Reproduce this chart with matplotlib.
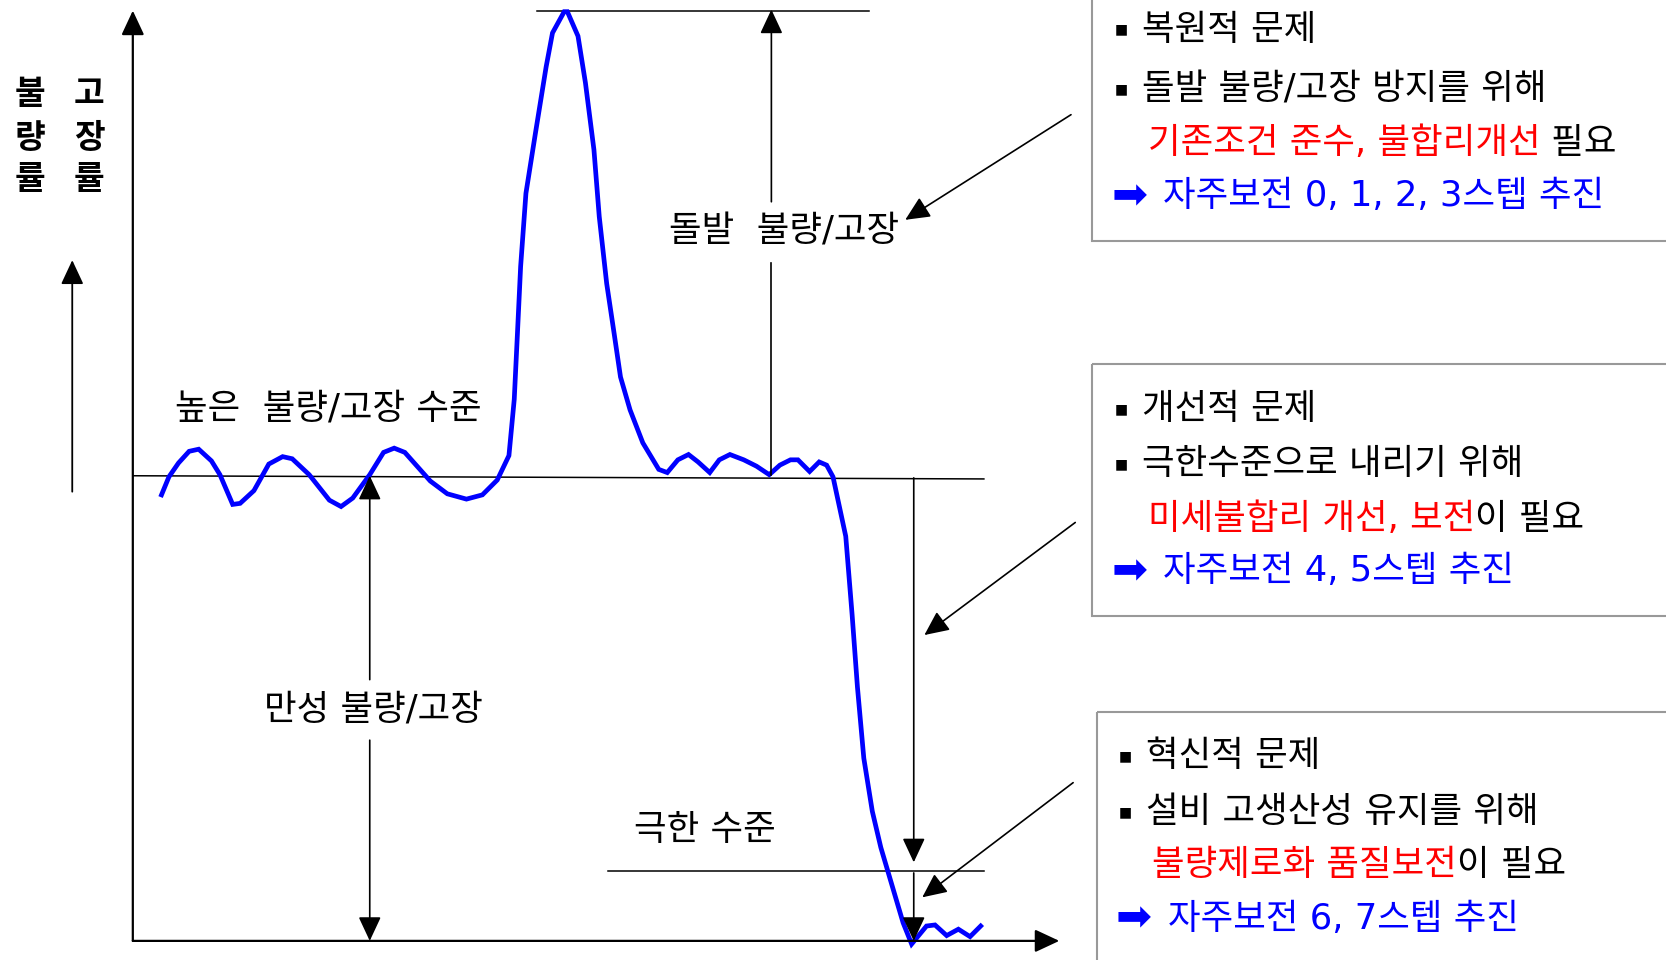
import matplotlib
matplotlib.use('Agg')
import matplotlib.pyplot as plt
from matplotlib.patches import Rectangle

# 라틴 문자/기호는 DejaVu, 한글은 Noto CJK
plt.rcParams['font.family'] = ['DejaVu Sans', 'Noto Sans CJK KR']

# 그림 좌표 (가로 1568, 세로 904, 위쪽이 0)
W, H = 1568, 904

# 불량/고장률 곡선
curve_x = [152, 159, 168, 178, 187, 199, 207, 219, 226, 239,
           253, 266, 275, 291, 310, 321, 332, 348, 361, 371,
           381, 405, 421, 439, 454, 468, 479, 484, 487, 490,
           495, 504, 514, 520, 531, 534, 544, 551, 559, 564,
           571, 578, 584, 593, 605, 620, 628, 638, 648, 657,
           668, 677, 687, 700, 712, 724, 734, 744, 751, 762,
           771, 778, 784, 796, 802, 807, 813, 821, 829, 842,
           850, 858, 872, 880, 891, 902, 913, 923]
curve_y = [466, 449, 436, 425, 423, 434, 447, 475, 474, 462,
           437, 430, 432, 447, 471, 477, 469, 447, 426, 422,
           426, 453, 465, 470, 466, 452, 429, 376, 314, 251,
           182, 125, 63, 31, 11, 11, 34, 78, 141, 204,
           267, 314, 355, 386, 417, 442, 445, 433, 428, 435,
           445, 433, 428, 433, 439, 447, 438, 433, 433, 444,
           435, 438, 449, 505, 579, 647, 714, 764, 798, 842,
           869, 889, 872, 871, 881, 875, 882, 872]

# 수준선 (x0, x1, y0, y1)
high_level = (125, 926, 448, 451)
peak_level = (505, 818, 10, 10)
limit_level = (572, 926, 820, 820)

# 그래프 라벨
labels = ['높은  불량/고장 수준', '돌발  불량/고장', '만성 불량/고장', '극한 수준']
label_pos = [(165, 385), (630, 218), (248, 668), (597, 782)]

ylabel_cols = ['불량률', '고장률']

# 오른쪽 설명 상자
box_titles = ['복원적 문제', '개선적 문제', '혁신적 문제']
box_reasons = ['돌발 불량/고장 방지를 위해', '극한수준으로 내리기 위해', '설비 고생산성 유지를 위해']
box_red = ['기존조건 준수, 불합리개선', '미세불합리 개선, 보전', '불량제로화 품질보전']
box_tail = [' 필요', '이 필요', '이 필요']
box_steps = ['자주보전 0, 1, 2, 3스텝 추진', '자주보전 4, 5스텝 추진', '자주보전 6, 7스텝 추진']
box_rows = [(28, 84, 135, 185), (385, 437, 489, 538), (712, 765, 815, 865)]
box_left = [1028, 1028, 1032]
box_top = [-20, 343, 670]
box_bottom = [227, 580, 930]
box_dx = [0, 0, 4]

FS = 25.5

fig = plt.figure(figsize=(16.66, 9.6), dpi=100)
ax = fig.add_axes([0, 0, 1, 1])
ax.set_xlim(0, W)
ax.set_ylim(H, 0)
ax.axis('off')

def arrow(x0, y0, x1, y1, lw=1.2, hl=0.75, hw=0.35, ms=20):
    ax.annotate('', xy=(x1, y1), xytext=(x0, y0),
                arrowprops=dict(arrowstyle=f'-|>,head_length={hl},head_width={hw}',
                                mutation_scale=ms, lw=lw, color='black',
                                shrinkA=0, shrinkB=0))

# 축
arrow(125, 886, 125, 10, lw=1.6)
arrow(125, 886, 997, 886, lw=1.6)
arrow(68, 463, 68, 245, lw=1.3)

# 수준선
for x0, x1, y0, y1 in [high_level, peak_level, limit_level]:
    ax.plot([x0, x1], [y0, y1], color='black', lw=1.1)

# 곡선
ax.plot(curve_x, curve_y, color='#0000ff', lw=3.4, solid_joinstyle='miter')

# 치수 화살표
arrow(726, 190, 726, 9)
ax.plot([726, 726], [248, 447], color='black', lw=1.2)
arrow(348, 640, 348, 448)
arrow(348, 697, 348, 886)
arrow(860, 450, 860, 812)
arrow(860, 822, 860, 886)

# 설명 상자를 가리키는 화살표
arrow(1008, 108, 852, 207)
arrow(1012, 492, 870, 598)
arrow(1010, 737, 868, 845)

# 라벨
for t, (x, y) in zip(labels, label_pos):
    ax.text(x, y, t, fontsize=FS, ha='left', va='center')

for col, x in zip(ylabel_cols, [28, 84]):
    for ch, y in zip(col, [89, 130, 169]):
        ax.text(x, y, ch, fontsize=24, fontweight='bold', ha='center', va='center')

# 설명 상자
for i in range(3):
    ax.add_patch(Rectangle((box_left[i], box_top[i]), 700, box_bottom[i] - box_top[i],
                           fill=False, edgecolor='#999999', lw=1.5))
    r = box_rows[i]
    dx = box_dx[i]
    ax.text(1049 + dx, r[0], '■', fontsize=10, ha='left', va='center')
    ax.text(1075 + dx, r[0], box_titles[i], fontsize=FS, ha='left', va='center')
    ax.text(1049 + dx, r[1], '■', fontsize=10, ha='left', va='center')
    ax.text(1075 + dx, r[1], box_reasons[i], fontsize=FS, ha='left', va='center')
    red = ax.text(1080 + dx, r[2], box_red[i], fontsize=FS, color='#ff0000',
                  ha='left', va='center')
    ax.annotate(box_tail[i], xy=(1, 0), xycoords=red, fontsize=FS, color='black',
                ha='left', va='bottom')
    ax.text(1046 + dx, r[3], '➡', fontsize=31, color='#0000ff',
            ha='left', va='center')
    ax.text(1095 + dx, r[3], box_steps[i], fontsize=FS, color='#0000ff',
            ha='left', va='center')

fig.savefig('out.png', dpi=100)
